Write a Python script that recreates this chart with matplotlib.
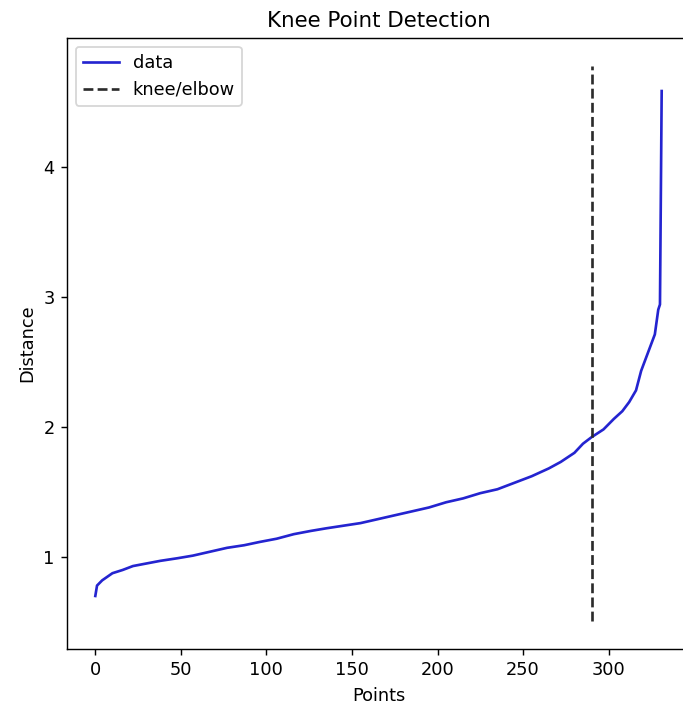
import matplotlib
matplotlib.use("Agg")
import matplotlib.pyplot as plt

# sorted k-distance values (point index, distance)
points = [0, 1, 4, 10, 16, 22, 30, 38, 48, 57, 67, 77, 87, 96, 106, 116, 126,
          135, 145, 155, 165, 175, 185, 195, 205, 215, 225, 235, 245, 255,
          265, 272, 280, 285, 290, 297, 303, 308, 312, 316, 319, 323, 327,
          329, 330, 331]
distance = [0.70, 0.78, 0.82, 0.875, 0.90, 0.93, 0.95, 0.97, 0.99, 1.01,
            1.04, 1.07, 1.09, 1.115, 1.14, 1.175, 1.20, 1.22, 1.24, 1.26,
            1.29, 1.32, 1.35, 1.38, 1.42, 1.45, 1.49, 1.52, 1.57, 1.62,
            1.68, 1.73, 1.80, 1.87, 1.92, 1.98, 2.06, 2.12, 2.19, 2.28,
            2.43, 2.57, 2.71, 2.90, 2.94, 4.58]
knee = 290

# reference looks like a smaller figure blown up, so render at a higher dpi
dpi = 128
fig = plt.figure(figsize=(683 / dpi, 707 / dpi), dpi=dpi)
# axes run past the right edge, as in the cropped reference
ax = fig.add_axes([67 / 683, 58 / 707, 623 / 683, 611 / 707])

ax.plot(points, distance, color="#2424d0", label="data")
ylo, yhi = ax.get_ylim()
ax.vlines(knee, ylo, yhi, linestyles="--", colors="#2b2b2b", label="knee/elbow")
ax.spines["right"].set_visible(False)

ax.set_title("Knee Point Detection")
ax.set_xlabel("Points")
ax.set_ylabel("Distance")
ax.legend(loc="upper left")

fig.savefig("out.png", dpi=dpi)
